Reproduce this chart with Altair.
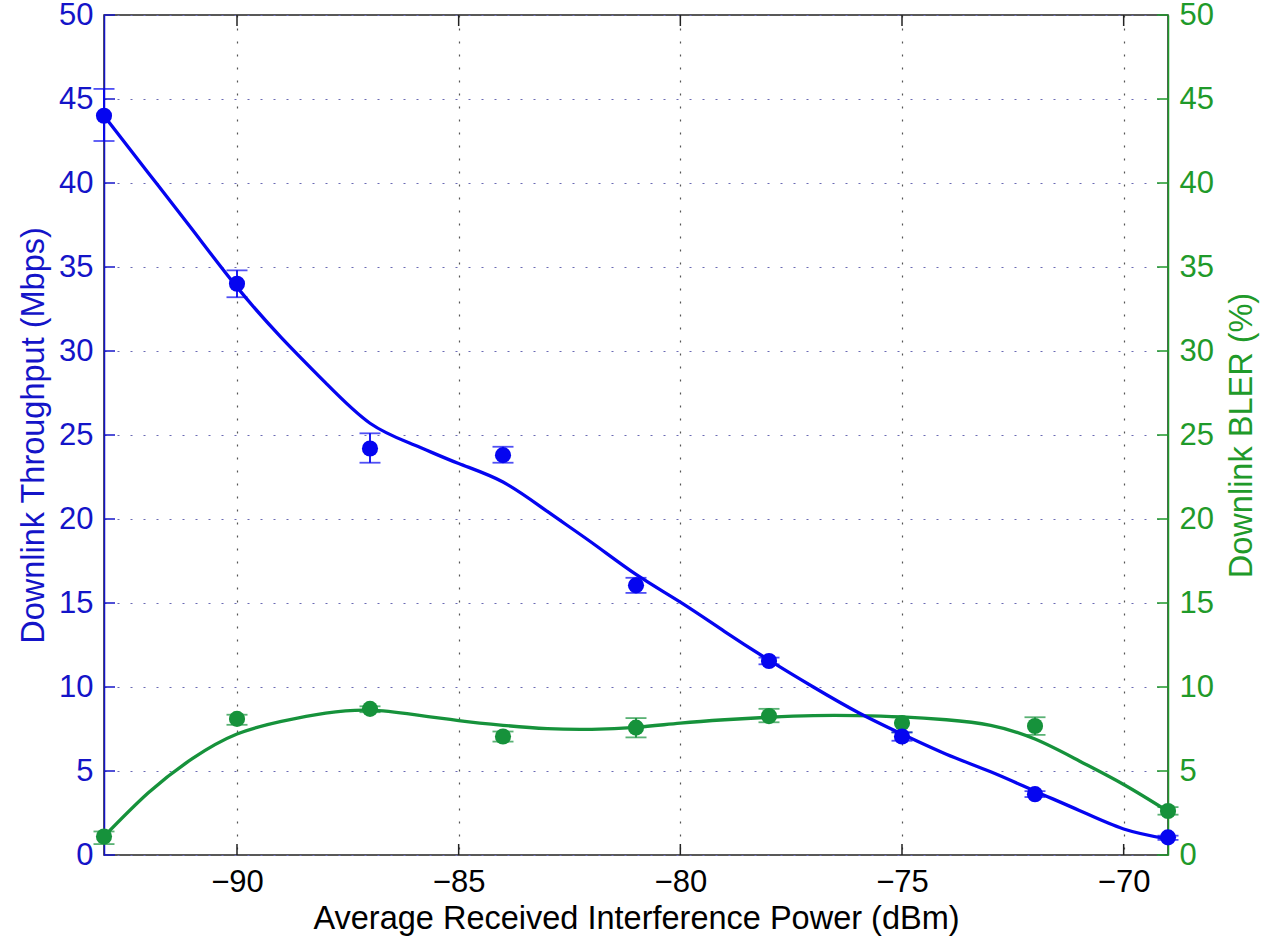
import altair as alt
import pandas as pd

# ---------------- data ----------------
x_meas = [-93, -90, -87, -84, -81, -78, -75, -72, -69]
thr_mean = [44.0, 34.0, 24.2, 23.8, 16.05, 11.55, 7.05, 3.62, 1.05]
thr_low = [42.5, 33.2, 23.35, 23.35, 15.6, 11.35, 6.8, 3.45, 0.9]
thr_high = [45.6, 34.8, 25.1, 24.3, 16.5, 11.75, 7.3, 3.8, 1.15]
bler_mean = [1.1, 8.1, 8.7, 7.05, 7.58, 8.27, 7.85, 7.68, 2.62]
bler_low = [0.65, 7.75, 8.5, 6.75, 7.0, 7.9, 7.3, 7.15, 2.4]
bler_high = [1.4, 8.35, 8.85, 7.35, 8.15, 8.7, 8.2, 8.2, 2.85]

# fitted curves
x_fit = [-93, -92, -91, -90, -89, -88, -87, -86, -85, -84,
         -83, -82, -81, -80, -79, -78, -77, -76, -75, -74, -73, -72, -71, -70, -69]
thr_fit = [44.0, 40.6, 37.2, 33.8, 30.8, 28.1, 25.7, 24.4, 23.3, 22.2,
           20.45, 18.6, 16.7, 15.05, 13.3, 11.6, 10.0, 8.5, 7.2, 6.0, 4.95, 3.8, 2.65, 1.55, 0.95]
bler_fit = [1.1, 3.7, 5.75, 7.2, 7.95, 8.45, 8.62, 8.35, 8.0, 7.72,
            7.52, 7.48, 7.6, 7.85, 8.05, 8.2, 8.3, 8.3, 8.22, 8.05, 7.72, 6.9, 5.6, 4.2, 2.6]

x_ticks = [-90, -85, -80, -75, -70]
y_ticks = list(range(0, 51, 5))

pts = pd.DataFrame({"x": x_meas, "thr": thr_mean, "thr_lo": thr_low, "thr_hi": thr_high,
                    "bler": bler_mean, "bler_lo": bler_low, "bler_hi": bler_high})
fit = pd.DataFrame({"x": x_fit, "thr": thr_fit, "bler": bler_fit})
xt = pd.DataFrame({"v": x_ticks})
yt = pd.DataFrame({"v": y_ticks})

BLUE = "#0505f0"
BLUE_T = "#1414c8"
GREEN = "#16923b"
GREEN_T = "#1f9a2a"
FONT = "Liberation Sans"
LFS = 31
TFS = 32.5
W, H = 1064, 840
TICK = 11

xs = alt.Scale(domain=[-93, -69], nice=False, zero=False)
ys = alt.Scale(domain=[0, 50], nice=False, zero=False)

X_main = alt.Axis(orient="bottom", title="Average Received Interference Power (dBm)",
                  values=x_ticks, labelFont=FONT, labelFontSize=LFS, labelColor="black",
                  titleFont=FONT, titleFontSize=TFS, titleColor="black", titleFontWeight="normal",
                  domain=False, ticks=False, labelPadding=12, titlePadding=5,
                  grid=True, gridColor="#555555", gridDash=[2, 11], gridWidth=1.2)

Y_left = alt.Axis(orient="left", title="Downlink Throughput (Mbps)", values=y_ticks,
                  labelFont=FONT, labelFontSize=LFS, labelColor=BLUE_T,
                  titleFont=FONT, titleFontSize=TFS, titleColor=BLUE_T, titleFontWeight="normal",
                  domainColor=BLUE_T, domainWidth=1.5, ticks=False, labelPadding=11,
                  titlePadding=8, grid=True, gridColor="#6a6ab4", gridDash=[2, 11], gridWidth=1.2)
Y_right = alt.Axis(orient="right", title="Downlink BLER (%)", values=y_ticks,
                   labelFont=FONT, labelFontSize=LFS, labelColor=GREEN_T,
                   titleFont=FONT, titleFontSize=TFS, titleColor=GREEN_T, titleFontWeight="normal",
                   titleAngle=270, titleBaseline="top",
                   domainColor=GREEN_T, domainWidth=1.5, ticks=False, labelPadding=11,
                   titlePadding=12, grid=False)


def series_group(field, color, main_y_axis, is_left):
    line = alt.Chart(fit).mark_line(color=color, strokeWidth=3.3, interpolate="natural").encode(
        x=alt.X("x:Q", scale=xs, axis=X_main if is_left else None),
        y=alt.Y(f"{field}:Q", scale=ys, axis=main_y_axis),
    )
    rule = alt.Chart(pts).mark_rule(color=color, strokeWidth=1.8).encode(
        x=alt.X("x:Q", scale=xs, axis=None),
        y=alt.Y(f"{field}_lo:Q", scale=ys, axis=None),
        y2=alt.Y2(f"{field}_hi:Q"),
    )
    cap_lo = alt.Chart(pts).mark_tick(color=color, orient="horizontal", size=21, thickness=1.8).encode(
        x=alt.X("x:Q", scale=xs, axis=None),
        y=alt.Y(f"{field}_lo:Q", scale=ys, axis=None),
    )
    cap_hi = alt.Chart(pts).mark_tick(color=color, orient="horizontal", size=21, thickness=1.8).encode(
        x=alt.X("x:Q", scale=xs, axis=None),
        y=alt.Y(f"{field}_hi:Q", scale=ys, axis=None),
    )
    dots = alt.Chart(pts).mark_circle(color=color, size=260, opacity=1).encode(
        x=alt.X("x:Q", scale=xs, axis=None),
        y=alt.Y(f"{field}:Q", scale=ys, axis=None),
    )
    # inward y ticks on this series' own axis
    if is_left:
        yticks = alt.Chart(yt).mark_rule(color=BLUE_T, strokeWidth=1.5).encode(
            y=alt.Y("v:Q", scale=ys, axis=None), x=alt.value(0), x2=alt.value(TICK))
        # inward x ticks, bottom
        xticks = alt.Chart(xt).mark_rule(color="#222222", strokeWidth=1.5).encode(
            x=alt.X("v:Q", scale=xs, axis=None), y=alt.value(H), y2=alt.value(H - TICK))
    else:
        yticks = alt.Chart(yt).mark_rule(color=GREEN_T, strokeWidth=1.5).encode(
            y=alt.Y("v:Q", scale=ys, axis=None), x=alt.value(W), x2=alt.value(W - TICK))
        # inward x ticks, top
        xticks = alt.Chart(xt).mark_rule(color="#222222", strokeWidth=1.5).encode(
            x=alt.X("v:Q", scale=xs, axis=None), y=alt.value(0), y2=alt.value(TICK))
    return alt.layer(yticks, xticks, line, rule, cap_lo, cap_hi, dots).resolve_axis(
        x="independent", y="independent")


green_group = series_group("bler", GREEN, Y_right, False)
blue_group = series_group("thr", BLUE, Y_left, True)

chart = (
    alt.layer(green_group, blue_group)
    .resolve_scale(y="independent")
    .resolve_axis(x="independent", y="independent")
    .properties(
        width=W, height=H,
        autosize=alt.AutoSizeParams(type="none"),
        padding={"left": 104, "top": 15, "right": 103, "bottom": 89},
        background="white",
    )
    .configure_view(stroke="#222222", strokeWidth=1.5)
)

chart.save("out.html", embed_options={"renderer": "svg", "actions": False})
